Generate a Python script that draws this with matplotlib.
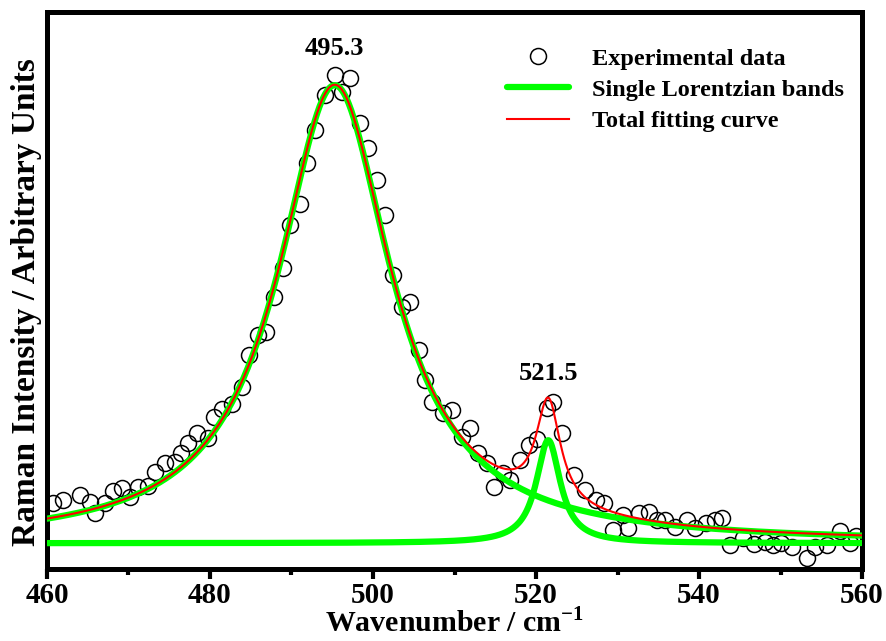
import numpy as np
import matplotlib
matplotlib.use('Agg')
import matplotlib.pyplot as plt
from matplotlib.ticker import MultipleLocator

plt.rcParams['font.family'] = ['Liberation Serif', 'DejaVu Serif']
plt.rcParams['font.weight'] = 'bold'

# Measured Raman spectrum (wavenumber in cm^-1, intensity in arbitrary units)
wavenumber = [
    460.8, 462.0, 464.0, 465.3, 465.9, 467.1, 468.1, 469.2, 470.2, 471.2,
    472.4, 473.3, 474.5, 475.7, 476.5, 477.3, 478.4, 479.8, 480.5, 481.5,
    482.7, 483.9, 484.8, 485.9, 486.9, 487.8, 488.9, 489.8, 491.0, 491.9,
    492.9, 494.1, 495.3, 496.2, 497.2, 498.4, 499.4, 500.5, 501.5, 502.5,
    503.5, 504.5, 505.6, 506.4, 507.2, 508.6, 509.7, 510.9, 511.9, 512.9,
    514.0, 514.8, 516.0, 516.8, 518.0, 519.1, 520.1, 521.3, 522.1, 523.2,
    524.6, 526.0, 527.4, 528.3, 529.5, 530.7, 531.3, 532.6, 533.8, 534.8,
    535.8, 537.1, 538.5, 539.5, 540.9, 542.0, 542.8, 543.8, 545.4, 546.7,
    548.1, 549.1, 550.1, 551.4, 553.2, 554.2, 555.7, 557.3, 558.5, 559.3,
]
intensity = [
    66, 69, 74, 67, 56, 66, 78, 81, 72, 82,
    83, 97, 106, 107, 116, 126, 136, 131, 152, 160,
    165, 182, 214, 234, 237, 272, 301, 344, 365, 406,
    439, 474, 494, 477, 491, 446, 421, 389, 354, 294,
    262, 267, 219, 189, 167, 156, 159, 132, 141, 116,
    106, 82, 96, 89, 109, 124, 130, 161, 167, 136,
    94, 79, 69, 66, 39, 54, 41, 56, 57, 49,
    49, 42, 49, 41, 46, 49, 51, 24, 31, 25,
    27, 24, 26, 22, 11, 22, 24, 38, 26, 33,
]

# Fitted Lorentzian bands: centre, amplitude, half width at half maximum
band_centres = [495.3, 521.5]
band_amplitudes = [458, 103]
band_hwhm = [8.4, 1.8]
fit_baseline = 26


def lorentzian(x, x0, amp, gamma):
    return amp / (1.0 + ((x - x0) / gamma) ** 2)


def total_fit(x):
    return fit_baseline + sum(lorentzian(x, c, a, g)
                              for c, a, g in zip(band_centres, band_amplitudes, band_hwhm))


x_fit = np.linspace(460, 560, 1000)
bands = [fit_baseline + lorentzian(x_fit, c, a, g)
         for c, a, g in zip(band_centres, band_amplitudes, band_hwhm)]
total = total_fit(x_fit)

fig = plt.figure(figsize=(8.86, 6.41), dpi=100)
ax = fig.add_axes([0.053, 0.112, 0.920, 0.869])

ax.plot(wavenumber, intensity, 'o', ms=11.5, mfc='none', mec='black', mew=1.1,
        label='Experimental data', zorder=2)
for i, b in enumerate(bands):
    ax.plot(x_fit, b, color='#00ff00', lw=4.5, solid_capstyle='round',
            label='Single Lorentzian bands' if i == 0 else None, zorder=3)
ax.plot(x_fit, total, color='red', lw=1.5, label='Total fitting curve', zorder=4)

# peak position labels above each band maximum
for c, off in zip(band_centres, [18, 9]):
    ax.annotate(f'{c:.1f}', xy=(c, total_fit(c)), xytext=(0, off), textcoords='offset points',
                ha='center', va='bottom', fontsize=19, fontweight='bold')

ax.set_xlim(460, 560)
ax.set_ylim(0, 557)
ax.set_yticks([])
ax.xaxis.set_major_locator(MultipleLocator(20))
ax.xaxis.set_minor_locator(MultipleLocator(10))
ax.tick_params(axis='x', which='major', direction='out', length=7, width=3,
               labelsize=21, pad=2, top=False)
ax.tick_params(axis='x', which='minor', direction='out', length=4, width=3, top=False)
for s in ax.spines.values():
    s.set_linewidth(3.6)

ax.set_xlabel('Wavenumber / cm$^{\\mathregular{-1}}$', fontsize=21.5, fontweight='bold')
ax.xaxis.set_label_coords(0.5, -0.113)
ax.xaxis.label.set_va('baseline')
ax.set_ylabel('Raman Intensity / Arbitrary Units', fontsize=24, fontweight='bold')
ax.yaxis.set_label_coords(-0.006, 0.48)

ax.legend(loc='upper left', bbox_to_anchor=(0.549, 0.958), frameon=False,
          prop={'size': 17.5, 'weight': 'bold'}, handlelength=2.55, handletextpad=0.95,
          labelspacing=0.38, borderpad=0)

fig.savefig('out.png', dpi=100)
